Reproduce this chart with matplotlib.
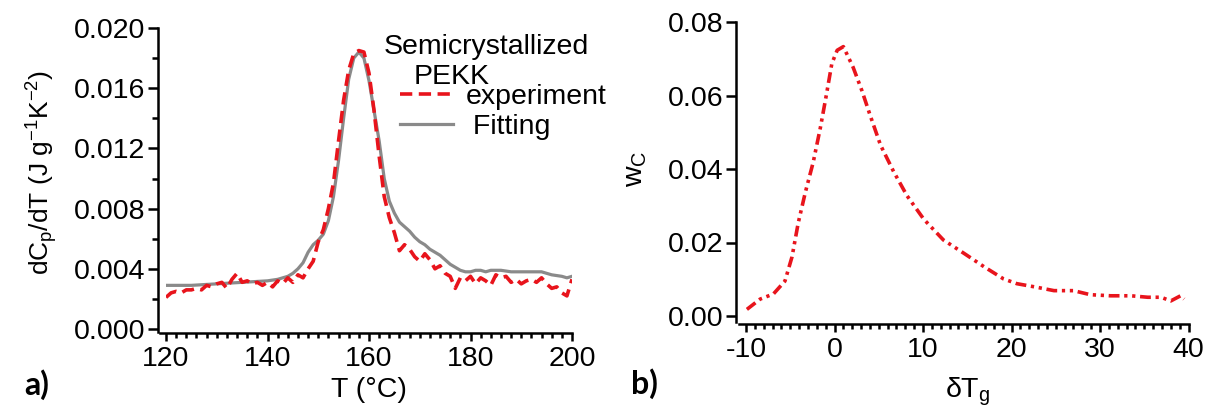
import matplotlib
matplotlib.use("Agg")
import matplotlib.pyplot as plt
from matplotlib.ticker import MultipleLocator

plt.rcParams['font.family'] = ['Liberation Sans', 'DejaVu Sans']
plt.rcParams['mathtext.fontset'] = 'custom'
plt.rcParams['mathtext.rm'] = 'Liberation Sans'
plt.rcParams['mathtext.it'] = 'Liberation Sans:italic'

# (a) dCp/dT of semicrystallized PEKK: measured curve and model fit
temp_exp = [120, 121, 122, 123, 124, 125, 126, 127, 128, 129,
            130, 131, 132, 133, 134, 135, 136, 137, 138, 139,
            140, 141, 142, 143, 144, 145, 146, 147, 148, 149,
            150, 151, 152, 153, 154, 155, 156, 157, 158, 159,
            160, 161, 162, 163, 164, 165, 166, 167, 168, 169,
            170, 171, 172, 173, 174, 175, 176, 177, 178, 179,
            180, 181, 182, 183, 184, 185, 186, 187, 188, 189,
            190, 191, 192, 193, 194, 195, 196, 197, 198, 199, 200]
dcp_exp = [0.0021, 0.0024, 0.0025, 0.0024, 0.0026, 0.0026, 0.0027, 0.0026, 0.0029, 0.0028,
           0.0030, 0.0031, 0.0027, 0.0033, 0.0037, 0.0031, 0.0032, 0.0030, 0.0031, 0.0029,
           0.0031, 0.0028, 0.0032, 0.0030, 0.0034, 0.0031, 0.0036, 0.0034, 0.0040, 0.0045,
           0.0058, 0.0066, 0.0080, 0.0097, 0.0125, 0.0152, 0.0172, 0.0183, 0.0185, 0.0184,
           0.0170, 0.0145, 0.0115, 0.0088, 0.0074, 0.0064, 0.0052, 0.0056, 0.0053, 0.0048,
           0.0045, 0.0050, 0.0046, 0.0040, 0.0042, 0.0037, 0.0035, 0.0027, 0.0034, 0.0032,
           0.0035, 0.0030, 0.0034, 0.0032, 0.0029, 0.0036, 0.0034, 0.0035, 0.0031, 0.0033,
           0.0030, 0.0032, 0.0033, 0.0031, 0.0034, 0.0030, 0.0027, 0.0028, 0.0024, 0.0022, 0.0033]

temp_fit = [120, 125, 130, 135, 140, 142, 144, 145, 146, 147,
            148, 149, 150, 151, 152, 153, 154, 155, 156, 157,
            158, 159, 160, 161, 162, 163, 164, 165, 166, 167,
            168, 169, 170, 171, 172, 173, 174, 175, 176, 177,
            178, 179, 180, 181, 182, 183, 184, 186, 188, 190,
            192, 194, 196, 198, 199, 200]
dcp_fit = [0.0029, 0.0029, 0.0030, 0.0031, 0.0032, 0.0033, 0.0035, 0.0037, 0.0040, 0.0044,
           0.0051, 0.0056, 0.0059, 0.0063, 0.0072, 0.0088, 0.0112, 0.0140, 0.0166, 0.0180,
           0.0184, 0.0180, 0.0165, 0.0145, 0.0125, 0.0100, 0.0085, 0.0077, 0.0071, 0.0068,
           0.0065, 0.0061, 0.0058, 0.0056, 0.0053, 0.0051, 0.0049, 0.0046, 0.0043, 0.0041,
           0.0039, 0.0038, 0.0038, 0.0039, 0.0039, 0.0038, 0.0039, 0.0039, 0.0038, 0.0038,
           0.0038, 0.0038, 0.0036, 0.0035, 0.0034, 0.0035]

# (b) weight distribution w_C against the Tg shift
delta_tg = [-9.9, -8.4, -6.9, -5.6, -4.8, -4.1, -3.3, -2.4, -1.6, -0.9,
            -0.3, 0.3, 1.0, 2.1, 3.1, 4.0, 5.2, 6.7, 8.2, 10.1,
            12.3, 14.6, 16.9, 19.1, 20.6, 22.9, 24.8, 27.0, 28.9, 31.2,
            33.5, 35.4, 36.9, 38.0, 39.1, 39.5]
w_c = [0.0018, 0.0046, 0.0060, 0.0095, 0.0161, 0.0253, 0.0336, 0.0419, 0.0512, 0.0604,
       0.0687, 0.0723, 0.0733, 0.0677, 0.0613, 0.0548, 0.0465, 0.0392, 0.0327, 0.0263,
       0.0207, 0.0171, 0.0134, 0.0101, 0.0088, 0.0078, 0.0069, 0.0069, 0.0058, 0.0055,
       0.0055, 0.0051, 0.0051, 0.0041, 0.0055, 0.0046]

t_ticks = [120, 140, 160, 180, 200]
t_labels = ["120", "140", "160", "180", "200"]
dcp_ticks = [0.000, 0.004, 0.008, 0.012, 0.016, 0.020]
dcp_labels = ["0.000", "0.004", "0.008", "0.012", "0.016", "0.020"]
dtg_ticks = [-10, 0, 10, 20, 30, 40]
dtg_labels = ["-10", "0", "10", "20", "30", "40"]
wc_ticks = [0.00, 0.02, 0.04, 0.06, 0.08]
wc_labels = ["0.00", "0.02", "0.04", "0.06", "0.08"]

RED = '#e8141c'
GREY = '#8a8a8a'
FS = 20.5
W, H = 1207, 409


def prism_axes(ax, left_off, bottom_off):
    """Detached left/bottom axes, no box."""
    ax.spines['top'].set_visible(False)
    ax.spines['right'].set_visible(False)
    ax.spines['left'].set_position(('outward', left_off))
    ax.spines['bottom'].set_position(('outward', bottom_off))
    for s in ('left', 'bottom'):
        ax.spines[s].set_linewidth(1.8)
    ax.tick_params(which='both', width=1.8, direction='out', labelsize=FS)
    ax.tick_params(axis='y', which='major', length=7, pad=2)
    ax.tick_params(axis='y', which='minor', length=4)
    ax.tick_params(axis='x', which='major', length=6, pad=3)
    ax.tick_params(axis='x', which='minor', length=3.5)


fig = plt.figure(figsize=(W / 100, H / 100), dpi=100)

# panel a
ax1 = fig.add_axes([166 / W, 1 - 329 / H, 406 / W, 301 / H])
ax1.plot(temp_fit, dcp_fit, color=GREY, lw=2.3, label=' Fitting', zorder=2)
ax1.plot(temp_exp, dcp_exp, color=RED, lw=2.6, linestyle=(0, (3.4, 1.8)),
         label='experiment', zorder=3)
ax1.set_xlim(120, 200)
ax1.set_ylim(0, 0.020)
prism_axes(ax1, 6, 3)
ax1.spines['left'].set_bounds(-0.0002, 0.020)
ax1.spines['bottom'].set_bounds(118.9, 200)
ax1.set_xticks(t_ticks)
ax1.set_xticklabels(t_labels)
ax1.set_yticks(dcp_ticks)
ax1.set_yticklabels(dcp_labels)
ax1.xaxis.set_minor_locator(MultipleLocator(2))
ax1.yaxis.set_minor_locator(MultipleLocator(0.002))
ax1.set_xlabel('T (°C)', fontsize=FS, labelpad=4)
ax1.set_ylabel(r'dC$_\mathrm{p}$/dT (J g$^\mathrm{-1}$K$^\mathrm{-2}$)', fontsize=19)
ax1.yaxis.set_label_coords(-0.262, 0.52)

ax1.text(0.788, 0.937, 'Semicrystallized', transform=ax1.transAxes,
         ha='center', va='center', fontsize=FS)
ax1.text(0.704, 0.837, 'PEKK', transform=ax1.transAxes,
         ha='center', va='center', fontsize=FS)
handles, labels = ax1.get_legend_handles_labels()
ax1.legend(handles[::-1], labels[::-1], loc='upper left',
           bbox_to_anchor=(0.576, 0.815), frameon=False, fontsize=FS,
           handlelength=1.85, handletextpad=0.45, labelspacing=0.15,
           borderpad=0, borderaxespad=0)

# panel b
ax2 = fig.add_axes([746 / W, 1 - 316 / H, 442.5 / W, 294 / H])
ax2.plot(delta_tg, w_c, color=RED, lw=2.6,
         linestyle=(0, (3.0, 1.3, 0.9, 1.3, 0.9, 1.3)))
ax2.set_xlim(-10, 40)
ax2.set_ylim(0, 0.08)
prism_axes(ax2, 7, 6)
ax2.spines['left'].set_bounds(-0.0016, 0.08)
ax2.spines['bottom'].set_bounds(-10.8, 40)
ax2.set_xticks(dtg_ticks)
ax2.set_xticklabels(dtg_labels)
ax2.set_yticks(wc_ticks)
ax2.set_yticklabels(wc_labels)
ax2.xaxis.set_minor_locator(MultipleLocator(1))
ax2.set_xlabel(r'δT$_\mathrm{g}$', fontsize=FS, labelpad=9)
ax2.set_ylabel(r'w$_\mathrm{C}$', fontsize=FS)
ax2.yaxis.set_label_coords(-0.22, 0.5)

fig.text(37 / W, 1 - 385 / H, 'a)', fontsize=23, fontweight='bold',
         family='Lato', ha='center', va='center')
fig.text(644 / W, 1 - 384 / H, 'b)', fontsize=23, fontweight='bold',
         family='Lato', ha='center', va='center')

fig.savefig('out.png', dpi=100)
